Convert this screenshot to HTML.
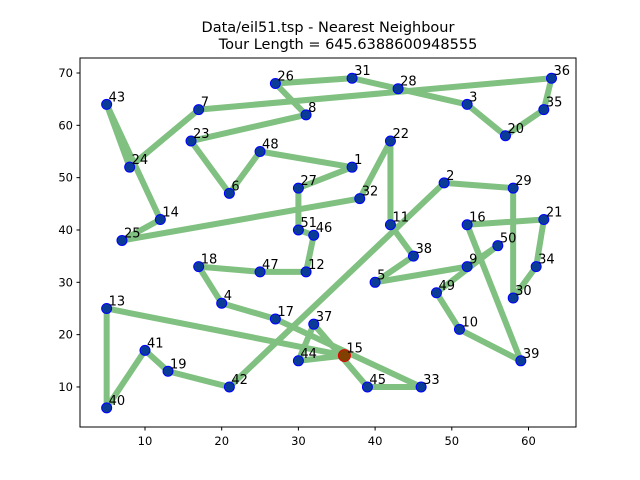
<!DOCTYPE html>
<html><head><meta charset="utf-8"><style>
body{margin:0;background:#fff}
svg{display:block;font-family:"DejaVu Sans","Liberation Sans",sans-serif}
</style></head><body>
<svg id="chart" width="640" height="480" viewBox="0 0 640 480">
<rect width="640" height="480" fill="#fff"/>
<text x="328" y="32" text-anchor="middle" font-size="14.5">Data/eil51.tsp - Nearest Neighbour</text>
<text x="348" y="49" text-anchor="middle" font-size="14.5">Tour Length = 645.6388600948555</text>
<g id="plot"></g>
<rect x="80" y="58" width="496" height="369" fill="none" stroke="#000" stroke-width="1"/>
<g id="axes"></g>
</svg>
<script>
const cityIds=[1,2,3,4,5,6,7,8,9,10,11,12,13,14,15,16,17,18,19,20,21,22,23,24,25,26,27,28,29,30,31,32,33,34,35,36,37,38,39,40,41,42,43,44,45,46,47,48,49,50,51];
const cityX=[37,49,52,20,40,21,17,31,52,51,42,31,5,12,36,52,27,17,13,57,62,42,16,8,7,27,30,43,58,58,37,38,46,61,62,63,32,45,59,5,10,21,5,30,39,32,25,25,48,56,30];
const cityY=[52,49,64,26,30,47,63,62,33,21,41,32,25,42,16,41,23,33,13,58,42,57,57,52,38,68,48,67,48,27,69,46,10,33,63,69,22,35,15,6,17,10,64,15,10,39,32,55,28,37,40];
const tour=[15,44,37,45,33,17,4,18,47,12,46,51,27,1,48,6,23,8,26,31,28,3,20,35,36,7,24,43,14,25,32,22,11,38,5,9,50,49,10,39,16,21,34,30,29,2,42,19,41,40,13,15];
const xTicks=[10,20,30,40,50,60];
const yTicks=[10,20,30,40,50,60,70];
const startCity=15;
const NS="http://www.w3.org/2000/svg";
function sx(v){return 68.3+v*7.67;}
function sy(v){return 439.3-v*5.233;}
function mk(tag,attrs,parent){const e=document.createElementNS(NS,tag);for(const k in attrs)e.setAttribute(k,attrs[k]);parent.appendChild(e);return e;}
const plot=document.getElementById('plot');
const axes=document.getElementById('axes');
const idx=id=>cityIds.indexOf(id);
for(let i=0;i<tour.length-1;i++){
  const a=idx(tour[i]),b=idx(tour[i+1]);
  const l=mk('line',{x1:sx(cityX[a]),y1:sy(cityY[a]),x2:sx(cityX[b]),y2:sy(cityY[b]),stroke:'#80c080','stroke-width':6,'stroke-linecap':'butt'},plot);
  
  
}
for(let i=0;i<cityIds.length;i++){
  const isStart=cityIds[i]===startCity;
  const c=mk('circle',{cx:sx(cityX[i]),cy:sy(cityY[i]),r:isStart?6:5,fill:isStart?'#804000':'#0a3c96',stroke:isStart?'#e00000':'#0000ff','stroke-width':1},plot);
  
  
  const t=mk('text',{x:sx(cityX[i])+2,y:sy(cityY[i])-3,'font-size':13},plot);
  t.textContent=cityIds[i];
  
  
}
xTicks.forEach(v=>{
  const l=mk('line',{x1:sx(v),y1:427,x2:sx(v),y2:430.5,stroke:'#000'},axes);
  
  
  const t=mk('text',{x:sx(v),y:445,'text-anchor':'middle','font-size':11.5},axes);
  t.textContent=v;
  
  
});
yTicks.forEach(v=>{
  const l=mk('line',{x1:76.5,y1:sy(v),x2:80,y2:sy(v),stroke:'#000'},axes);
  
  
  const t=mk('text',{x:73,y:sy(v)+4,'text-anchor':'end','font-size':11.5},axes);
  t.textContent=v;
  
  
});
</script>
</body></html>
